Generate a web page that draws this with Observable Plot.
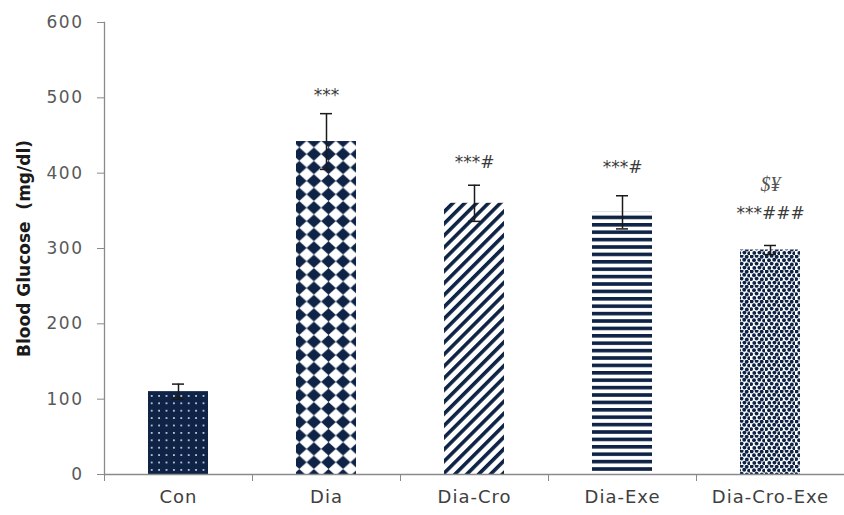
<!DOCTYPE html>
<html>
<head>
<meta charset="utf-8">
<script src="https://cdn.jsdelivr.net/npm/d3@7"></script>
<script src="https://cdn.jsdelivr.net/npm/@observablehq/plot@0.6"></script>
<style>
  html, body { margin: 0; padding: 0; background: #fff; }
  .yax text { letter-spacing: 1.5px; }
  .xax text { letter-spacing: 1px; }
</style>
</head>
<body>
<div id="chart"></div>
<script>
const categories = ["Con", "Dia", "Dia-Cro", "Dia-Exe", "Dia-Cro-Exe"];
const means = [110, 442, 360, 348, 298];
const sds = [10, 37, 24, 22, 6];
const sigLabels = ["", "***", "***#", "***#", "***###"];
const sigY = [null, 503, 414, 408, 346];
const extraLabels = ["", "", "", "", "$¥"];
const extraY = [null, null, null, null, 385];
const yTicks = [0, 100, 200, 300, 400, 500, 600];
const yLabel = "Blood Glucose  (mg/dl)";

const rows = categories.map((c, i) => ({cat: c, mean: means[i], sd: sds[i]}));
const sigRows = categories.map((c, i) => ({cat: c, label: sigLabels[i], y: sigY[i]})).filter(d => d.label);
const extraRows = categories.map((c, i) => ({cat: c, label: extraLabels[i], y: extraY[i]})).filter(d => d.label);

const patternIds = ["p-con", "p-dia", "p-cro", "p-exe", "p-dce"];
const navy = "#0e2346";
const axisGray = "#8a8a8a";

const barMarks = rows.map((r, i) => Plot.barY([r], {
  x: "cat", y: "mean", fill: `url(#${patternIds[i]})`, insetLeft: 44, insetRight: 44
}));

const svg = Plot.plot({
  width: 844,
  height: 515,
  marginLeft: 104,
  marginRight: 0,
  marginTop: 22,
  marginBottom: 41,
  style: {fontFamily: "DejaVu Sans", background: "#fff", fontSize: "17px"},
  x: {domain: categories, padding: 0, label: null},
  y: {domain: [0, 600], label: null},
  marks: [
    ...barMarks,
    Plot.ruleX(rows, {x: "cat", y1: d => d.mean - d.sd, y2: d => d.mean + d.sd, stroke: "#1a1a1a", strokeWidth: 1.5}),
    Plot.tickY(rows, {x: "cat", y: d => d.mean + d.sd, stroke: "#1a1a1a", strokeWidth: 1.5, insetLeft: 68, insetRight: 68}),
    Plot.tickY(rows, {x: "cat", y: d => d.mean - d.sd, stroke: "#1a1a1a", strokeWidth: 1.5, insetLeft: 68, insetRight: 68}),
    Plot.ruleY([0], {stroke: axisGray, strokeWidth: 1.3}),
    Plot.frame({anchor: "left", stroke: axisGray, strokeWidth: 1.3}),
    Plot.axisY({ticks: yTicks, tickSize: 7, tickPadding: 14, stroke: axisGray, fill: "#595959", fontSize: 17, label: null, tickFormat: d3.format("d"), className: "yax"}),
    Plot.axisX({tickSize: 7, tickPadding: 0, text: null, dx: -74, stroke: axisGray, label: null}),
    Plot.axisX({tickSize: 0, tickPadding: 16, fill: "#404040", fontSize: 18, label: null, className: "xax"}),
    Plot.text([yLabel], {frameAnchor: "left", textAnchor: "middle", lineAnchor: "middle", rotate: -90, dx: -80, text: d => d, fontSize: 17, fontWeight: "bold", fill: "#1a1a1a"}),
    Plot.text(sigRows, {x: "cat", y: "y", text: "label", fontSize: 17, fill: "#3a3a3a"}),
    Plot.text(extraRows, {x: "cat", y: "y", text: "label", fontSize: 20, fontStyle: "italic", fontFamily: "Liberation Serif", fill: "#555"})
  ]
});

// pattern definitions
const defs = d3.select(svg).insert("defs", ":first-child");
// Con: navy with white dots
const pc = defs.append("pattern").attr("id", "p-con").attr("patternUnits", "userSpaceOnUse").attr("width", 7.4).attr("height", 7.4);
pc.append("rect").attr("width", 7.4).attr("height", 7.4).attr("fill", navy);
pc.append("circle").attr("cx", 3.7).attr("cy", 3.7).attr("r", 1.0).attr("fill", "#dfe4ec");
// Dia: diamond checker
const pd = defs.append("pattern").attr("id", "p-dia").attr("patternUnits", "userSpaceOnUse").attr("width", 14.6).attr("height", 13.4);
pd.append("rect").attr("width", 14.6).attr("height", 13.4).attr("fill", "#fff");
pd.append("polygon").attr("points", "7.3,0 14.6,6.7 7.3,13.4 0,6.7").attr("fill", navy);
// Dia-Cro: diagonal stripes
const pr = defs.append("pattern").attr("id", "p-cro").attr("patternUnits", "userSpaceOnUse").attr("width", 8.4).attr("height", 8.4).attr("patternTransform", "rotate(45)");
pr.append("rect").attr("width", 8.4).attr("height", 8.4).attr("fill", "#fff");
pr.append("rect").attr("x", 0).attr("width", 3.6).attr("height", 8.4).attr("fill", navy);
// Dia-Exe: horizontal stripes
const pe = defs.append("pattern").attr("id", "p-exe").attr("patternUnits", "userSpaceOnUse").attr("width", 10).attr("height", 7.4).attr("y", 1);
pe.append("rect").attr("width", 10).attr("height", 7.4).attr("fill", "#fff");
pe.append("rect").attr("y", 0).attr("width", 10).attr("height", 3.6).attr("fill", navy);
// Dia-Cro-Exe: stipple
const ps = defs.append("pattern").attr("id", "p-dce").attr("patternUnits", "userSpaceOnUse").attr("width", 15).attr("height", 15);
ps.append("rect").attr("width", 15).attr("height", 15).attr("fill", "#fff");
const dots = [
  [1.6,1.4],[6.6,0.9],[11.7,1.7],
  [4.0,5.2],[9.2,4.8],[14.1,5.6],
  [1.2,9.1],[6.6,8.6],[11.8,9.5],
  [4.3,12.9],[9.4,12.6],[14.3,13.3]
];
dots.forEach(([x, y]) => ps.append("circle").attr("cx", x).attr("cy", y).attr("r", 1.95).attr("fill", navy));

document.getElementById("chart").appendChild(svg);
</script>
</body>
</html>
